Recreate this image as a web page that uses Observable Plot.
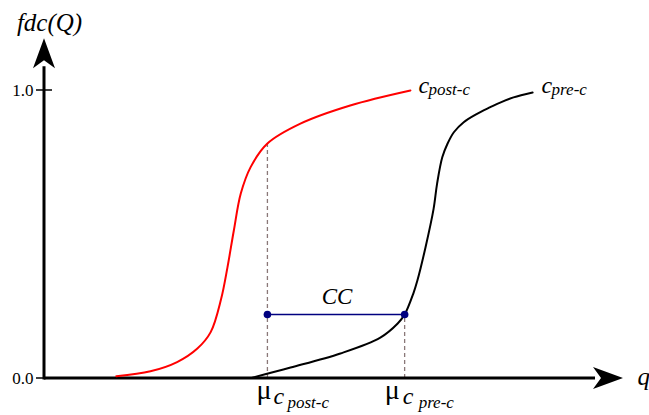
<!DOCTYPE html>
<html>
<head>
<meta charset="utf-8">
<script src="https://cdn.jsdelivr.net/npm/d3@7"></script>
<script src="https://cdn.jsdelivr.net/npm/@observablehq/plot@0.6"></script>
<style>
  html, body { margin: 0; padding: 0; background: #fff; }
  #chart svg { display: block; }
  #chart svg text { font-family: "Liberation Serif", "Times New Roman", serif; }
</style>
</head>
<body>
<div id="chart"></div>
<script>
// ---- data (q in arbitrary units, fdc in [0,1]) ----
const postQ = [1.24, 1.83, 2.29, 2.64, 2.87, 3.05, 3.16, 3.27, 3.39, 3.56, 3.85, 4.42, 5.28, 6.32];
const postF = [0.008, 0.025, 0.057, 0.104, 0.161, 0.276, 0.386, 0.514, 0.642, 0.734, 0.816, 0.885, 0.948, 1.0];
const preQ = [3.59, 4.25, 5.11, 5.80, 6.10, 6.22, 6.37, 6.44, 6.58, 6.72, 6.78, 6.87, 6.96, 7.07, 7.24, 7.47, 7.70, 7.88, 8.10, 8.43];
const preF = [0.003, 0.038, 0.087, 0.142, 0.191, 0.222, 0.295, 0.340, 0.455, 0.589, 0.676, 0.768, 0.815, 0.855, 0.890, 0.919, 0.942, 0.959, 0.976, 0.993];
const muPost = 3.85, muPostF = 0.816;   // dashed line top on post curve
const muPre = 6.22;
const ccLevel = 0.222;
const yTicks = [0, 1];
const yTickLabels = ["0.0", "1.0"];
const xMax = 10, yMax = 1.18;           // arrow tips

const post = postQ.map((q, i) => ({q, f: postF[i]}));
const pre = preQ.map((q, i) => ({q, f: preF[i]}));

const serif = "'Liberation Serif', 'Times New Roman', serif";

// custom axis mark with filled arrowheads
function axes(index, {x, y}) {
  const g = d3.create("svg:g");
  const x0 = x(0), y0 = y(0), xt = x(xMax), yt = y(yMax);
  const L = 30, Wd = 11;
  g.append("line").attr("x1", x0).attr("x2", xt - L + 2).attr("y1", y0).attr("y2", y0)
    .attr("stroke", "black").attr("stroke-width", 3);
  g.append("line").attr("x1", x0).attr("x2", x0).attr("y1", y0 + 1.5).attr("y2", yt + L - 2)
    .attr("stroke", "black").attr("stroke-width", 3);
  g.append("path").attr("d", `M${xt},${y0} L${xt - L},${y0 - Wd} L${xt - L + 8},${y0} L${xt - L},${y0 + Wd} Z`)
    .attr("fill", "black");
  g.append("path").attr("d", `M${x0},${yt} L${x0 - Wd},${yt + L} L${x0},${yt + L - 8} L${x0 + Wd},${yt + L} Z`)
    .attr("fill", "black");
  g.append("line").attr("x1", x0 - 8).attr("x2", x0 + 8).attr("y1", y(1)).attr("y2", y(1))
    .attr("stroke", "black").attr("stroke-width", 1.5);
  g.append("line").attr("x1", x0 - 8).attr("x2", x0).attr("y1", y(0)).attr("y2", y(0))
    .attr("stroke", "black").attr("stroke-width", 1.5);
  return g.node();
}

const T = (txt, o) => Plot.text([txt], {text: d => d, textAnchor: "start", lineAnchor: "bottom",
  fontFamily: serif, fill: "black", ...o});

const chart = Plot.plot({
  width: 649,
  height: 415,
  marginLeft: 44,
  marginRight: 26,
  marginTop: 90,
  marginBottom: 37,
  x: {domain: [0, xMax], axis: null},
  y: {domain: [0, 1], axis: null},
  style: {background: "white", overflow: "visible", fontFamily: serif},
  marks: [
    Plot.ruleX([muPost], {y1: 0, y2: muPostF, stroke: "#8a7878", strokeWidth: 1.3, strokeDasharray: "4,3"}),
    Plot.ruleX([muPre], {y1: 0, y2: ccLevel, stroke: "#8a7878", strokeWidth: 1.3, strokeDasharray: "4,3"}),
    axes,
    Plot.line(post, {x: "q", y: "f", stroke: "#ff0000", strokeWidth: 2, curve: "catmull-rom"}),
    Plot.line(pre, {x: "q", y: "f", stroke: "black", strokeWidth: 2, curve: "catmull-rom"}),
    Plot.ruleY([ccLevel], {x1: muPost, x2: muPre, stroke: "#000080", strokeWidth: 1.5}),
    Plot.dot([muPost, muPre], {x: d => d, y: ccLevel, r: 3.8, fill: "#000080", stroke: "none"}),
    T("CC", {x: (muPost + muPre) / 2, y: ccLevel, dx: 1, dy: -11, textAnchor: "middle", fontStyle: "italic", fontSize: 23}),
    Plot.text(yTicks, {x: 0, y: d => d, text: (d, i) => yTickLabels[i], dx: -11, textAnchor: "end",
      fontFamily: serif, fontSize: 17, fill: "black"}),
    T("fdc(Q)", {x: 0, y: yMax, dx: 5, dy: -8, textAnchor: "middle", fontStyle: "italic", fontSize: 25}),
    T("q", {x: xMax, y: 0, dx: 14, dy: 6, fontStyle: "italic", fontSize: 25}),
    T("c", {x: postQ[postQ.length - 1], y: postF[postF.length - 1], dx: 8, dy: 2, fontStyle: "italic", fontSize: 24}),
    T("post-c", {x: postQ[postQ.length - 1], y: postF[postF.length - 1], dx: 18, dy: 4, fontStyle: "italic", fontSize: 17}),
    T("c", {x: preQ[preQ.length - 1], y: preF[preF.length - 1], dx: 9, dy: 0, fontStyle: "italic", fontSize: 24}),
    T("pre-c", {x: preQ[preQ.length - 1], y: preF[preF.length - 1], dx: 19, dy: 2, fontStyle: "italic", fontSize: 17}),
    T("μ", {x: muPost, y: 0, dx: -11, dy: 20, fontSize: 28}),
    T("c", {x: muPost, y: 0, dx: 6, dy: 25, fontStyle: "italic", fontSize: 24}),
    T("post-c", {x: muPost, y: 0, dx: 20, dy: 29, fontStyle: "italic", fontSize: 17}),
    T("μ", {x: muPre, y: 0, dx: -20, dy: 20, fontSize: 28}),
    T("c", {x: muPre, y: 0, dx: -2, dy: 25, fontStyle: "italic", fontSize: 24}),
    T("pre-c", {x: muPre, y: 0, dx: 14, dy: 29, fontStyle: "italic", fontSize: 17})
  ]
});
document.getElementById("chart").appendChild(chart);
</script>
</body>
</html>
